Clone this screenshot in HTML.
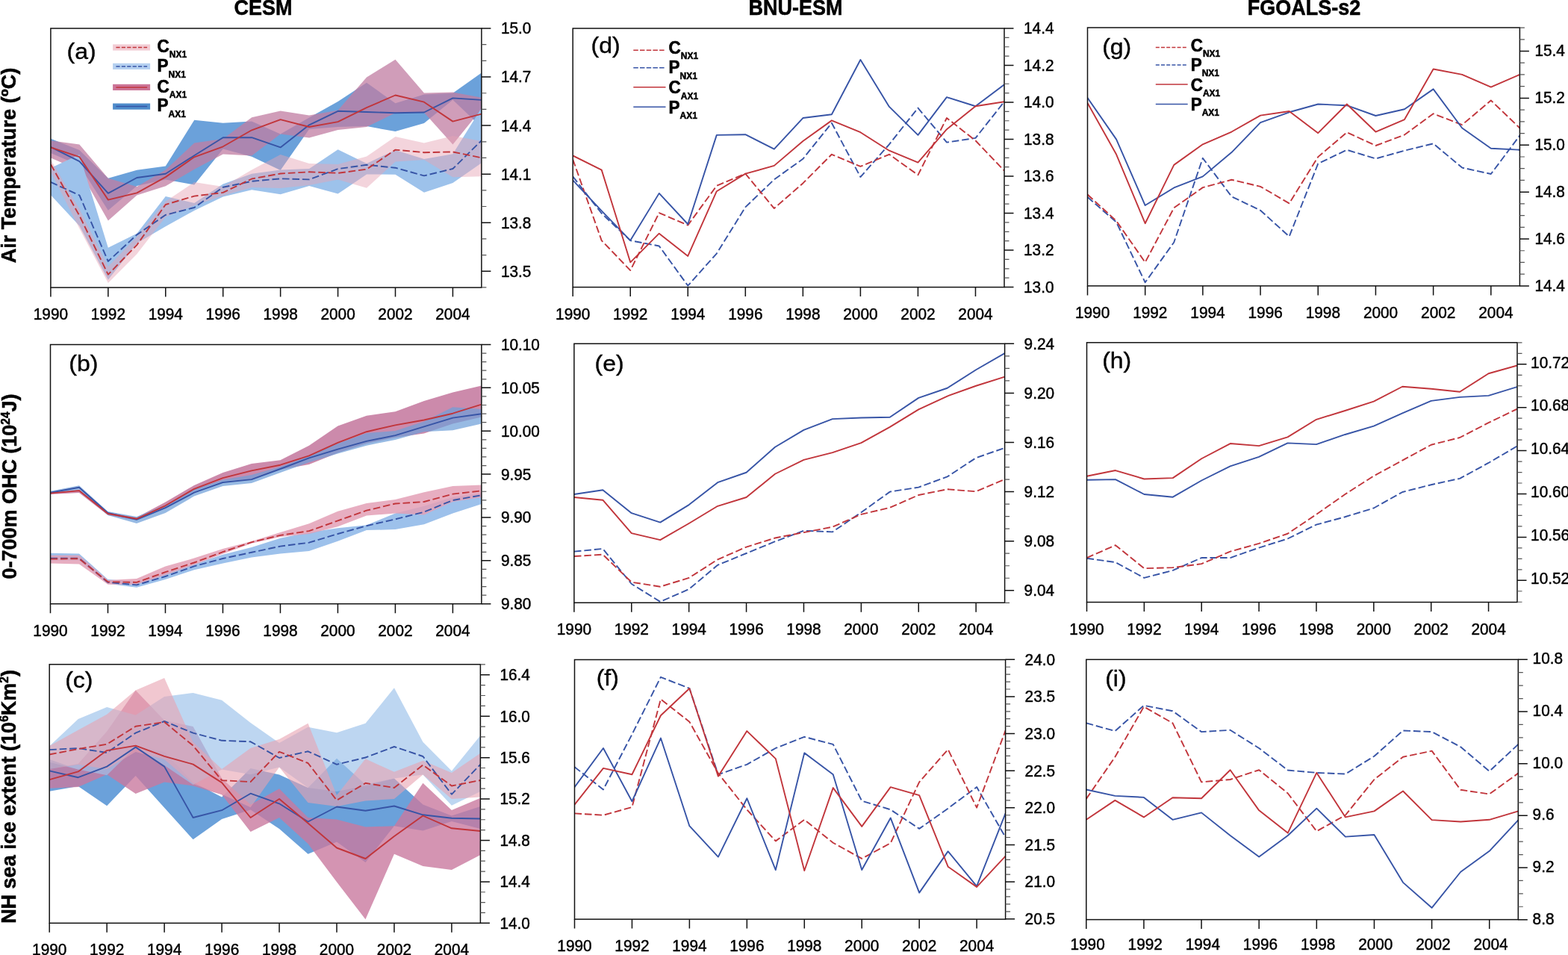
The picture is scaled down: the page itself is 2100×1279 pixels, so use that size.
<!DOCTYPE html>
<html lang="en"><head><meta charset="utf-8"><title>Figure</title>
<style>html,body{margin:0;padding:0;background:#fff}body{width:2100px;height:1279px;overflow:hidden}svg{display:block}text{font-family:"Liberation Sans", sans-serif;fill:#000}.t{font-size:20.8px;stroke:#000;stroke-width:0.45px}.b{font-weight:bold;font-size:27px;stroke:#000;stroke-width:0.5px}.g{font-size:32px;stroke:#000;stroke-width:0.4px}.lg{font-weight:bold;font-size:22.5px;stroke:#000;stroke-width:0.6px}.sb{font-weight:bold;font-size:12px;stroke:#000;stroke-width:0.5px}</style></head><body>
<svg width="2100" height="1279" viewBox="0 0 2100 1279">
<rect width="2100" height="1279" fill="#fff"/>
<text class="b" transform="translate(352.5,19.8) scale(1,1.1)" text-anchor="middle">CESM</text>
<text class="b" transform="translate(1065.5,19.8) scale(1,1.1)" text-anchor="middle">BNU-ESM</text>
<text class="b" transform="translate(1746.5,19.8) scale(1,1.1)" text-anchor="middle">FGOALS-s2</text>
<text class="b" transform="translate(20.8,221.5) rotate(-90) scale(1,1.04)" text-anchor="middle">Air Temperature (ºC)</text>
<text class="b" transform="translate(22.4,651.5) rotate(-90) scale(1,1.04)" text-anchor="middle">0-700m OHC (10<tspan dy="-9" font-size="15.5">24</tspan><tspan dy="9">J)</tspan></text>
<text class="b" transform="translate(20.8,1067) rotate(-90) scale(1,1.04)" text-anchor="middle">NH sea ice extent (10<tspan dy="-9" font-size="15.5">6</tspan><tspan dy="9">Km</tspan><tspan dy="-9" font-size="15.5">2</tspan><tspan dy="9">)</tspan></text>
<g id="pa">
<clipPath id="ca"><rect x="67.9" y="38" width="577" height="347.1"/></clipPath>
<g clip-path="url(#ca)">
<polygon points="67.9,185.7 106.37,201 144.83,238.8 183.3,227.7 221.77,222.6 260.23,160.7 298.7,164.7 337.17,162.5 375.63,179.4 414.1,157.5 452.57,136 491.03,110.8 529.5,138.3 567.97,126.5 606.43,124.8 644.9,97.5 644.9,170.6 606.43,133.8 567.97,164.9 529.5,176.1 491.03,169 452.57,170 414.1,173 375.63,228 337.17,209.7 298.7,199.6 260.23,247.4 221.77,240.5 183.3,249.1 144.83,281.8 106.37,221.6 67.9,205" fill="#6ba1da" fill-opacity="1"/>
<polygon points="67.9,188.2 106.37,193.4 144.83,238.8 183.3,250 221.77,227.6 260.23,191.5 298.7,186 337.17,157.3 375.63,148.5 414.1,154.6 452.57,147.8 491.03,103.5 529.5,79.8 567.97,124.5 606.43,123.5 644.9,130.8 644.9,146 606.43,193.5 567.97,150.8 529.5,151.2 491.03,170 452.57,174 414.1,184.5 375.63,179.4 337.17,208.5 298.7,206.6 260.23,226.8 221.77,249.2 183.3,261.5 144.83,295.5 106.37,228 67.9,211.5" fill="#c17ea3" fill-opacity="0.76"/>
<polygon points="67.9,225 106.37,207 144.83,331.7 183.3,312.8 221.77,262.9 260.23,272 298.7,246.5 337.17,232.8 375.63,227.6 414.1,226 452.57,200.2 491.03,219 529.5,201 567.97,213.1 606.43,206.2 644.9,144.4 644.9,218.2 606.43,244.9 567.97,257.8 529.5,233.7 491.03,233.5 452.57,259.6 414.1,249 375.63,260.3 337.17,254.3 298.7,263.5 260.23,282 221.77,303.3 183.3,325.7 144.83,374.7 106.37,302.4 67.9,261.2" fill="#9dc2eb" fill-opacity="1"/>
<polygon points="67.9,213.9 106.37,280 144.83,357 183.3,317 221.77,269.8 260.23,244 298.7,250 337.17,227.5 375.63,207 414.1,219 452.57,220 491.03,209.6 529.5,183 567.97,191.6 606.43,182.1 644.9,189 644.9,236.3 606.43,237.2 567.97,213.9 529.5,216.5 491.03,251.8 452.57,240.6 414.1,248 375.63,252 337.17,251 298.7,262 260.23,275.3 221.77,290.4 183.3,340.3 144.83,379 106.37,306 67.9,230" fill="#e5a4b5" fill-opacity="0.47"/>
<polyline points="67.9,243.9 106.37,261.5 144.83,350 183.3,314.4 221.77,287.8 260.23,278 298.7,250.8 337.17,242.8 375.63,239.3 414.1,240.4 452.57,226.2 491.03,220.8 529.5,224.7 567.97,235.4 606.43,226 644.9,188.2" fill="none" stroke="#3754a6" stroke-width="1.9" stroke-linejoin="round" stroke-dasharray="9.6 3.9"/>
<polyline points="67.9,220 106.37,288.8 144.83,367.7 183.3,328.1 221.77,274 260.23,262.6 298.7,257.9 337.17,239.5 375.63,232.5 414.1,230.3 452.57,231.8 491.03,226.7 529.5,200.6 567.97,204.2 606.43,203.4 644.9,211.3" fill="none" stroke="#c1353b" stroke-width="1.9" stroke-linejoin="round" stroke-dasharray="9.6 3.9"/>
<polyline points="67.9,196.9 106.37,216.2 144.83,258.9 183.3,238 221.77,232.7 260.23,208.3 298.7,184.2 337.17,184.2 375.63,197.4 414.1,167.3 452.57,148.8 491.03,150 529.5,151.2 567.97,150.5 606.43,131.4 644.9,133.9" fill="none" stroke="#3754a6" stroke-width="1.9" stroke-linejoin="round"/>
<polyline points="67.9,197.5 106.37,210.2 144.83,267.6 183.3,258.4 221.77,237.1 260.23,210.3 298.7,196.3 337.17,174.3 375.63,160.2 414.1,170 452.57,163.1 491.03,144.2 529.5,127.5 567.97,136.7 606.43,162.6 644.9,152.6" fill="none" stroke="#c1353b" stroke-width="1.9" stroke-linejoin="round"/>
</g>
<rect x="67.9" y="38" width="577" height="347.1" fill="none" stroke="#111" stroke-width="1.5"/>
<path d="M67.9 385.1v12.5M144.83 385.1v12.5M221.77 385.1v12.5M298.7 385.1v12.5M375.63 385.1v12.5M452.57 385.1v12.5M529.5 385.1v12.5M606.43 385.1v12.5" stroke="#111" stroke-width="1.5" fill="none"/>
<text class="t" transform="translate(67.9,428.1) scale(1,1.02)" text-anchor="middle">1990</text>
<text class="t" transform="translate(144.83,428.1) scale(1,1.02)" text-anchor="middle">1992</text>
<text class="t" transform="translate(221.77,428.1) scale(1,1.02)" text-anchor="middle">1994</text>
<text class="t" transform="translate(298.7,428.1) scale(1,1.02)" text-anchor="middle">1996</text>
<text class="t" transform="translate(375.63,428.1) scale(1,1.02)" text-anchor="middle">1998</text>
<text class="t" transform="translate(452.57,428.1) scale(1,1.02)" text-anchor="middle">2000</text>
<text class="t" transform="translate(529.5,428.1) scale(1,1.02)" text-anchor="middle">2002</text>
<text class="t" transform="translate(606.43,428.1) scale(1,1.02)" text-anchor="middle">2004</text>
<text class="t" transform="translate(670.9,45.4) scale(1,1.02)">15.0</text>
<text class="t" transform="translate(670.9,110.45) scale(1,1.02)">14.7</text>
<text class="t" transform="translate(670.9,175.5) scale(1,1.02)">14.4</text>
<text class="t" transform="translate(670.9,240.55) scale(1,1.02)">14.1</text>
<text class="t" transform="translate(670.9,305.6) scale(1,1.02)">13.8</text>
<text class="t" transform="translate(670.9,370.65) scale(1,1.02)">13.5</text>
<path d="M644.9 38h12.5M644.9 103.05h12.5M644.9 168.1h12.5M644.9 233.15h12.5M644.9 298.2h12.5M644.9 363.25h12.5" stroke="#111" stroke-width="1.5" fill="none"/>
<path d="M644.9 59.68h6.5M644.9 81.37h6.5M644.9 124.73h6.5M644.9 146.42h6.5M644.9 189.78h6.5M644.9 211.47h6.5M644.9 254.83h6.5M644.9 276.52h6.5M644.9 319.88h6.5M644.9 341.57h6.5M644.9 384.93h6.5" stroke="#555" stroke-width="1.2" fill="none"/>
<text class="g" transform="translate(109.1,78.64) scale(1,0.95)" text-anchor="middle">(a)</text>
</g>
<g id="pd">
<clipPath id="cd"><rect x="767.2" y="38" width="577.8" height="346.6"/></clipPath>
<g clip-path="url(#cd)">
<polyline points="767.2,236.36 805.72,285.78 844.24,322.09 882.76,329.49 921.28,382.61 959.8,339.58 998.32,277.38 1036.84,240.39 1075.36,212.82 1113.88,164.74 1152.4,237.03 1190.92,193.32 1229.44,144.57 1267.96,190.63 1306.48,184.92 1345,136.17" fill="none" stroke="#3754a6" stroke-width="1.9" stroke-linejoin="round" stroke-dasharray="9.6 3.9"/>
<polyline points="767.2,213.5 805.72,322.09 844.24,362.1 882.76,285.11 921.28,301.58 959.8,248.8 998.32,232.66 1036.84,279.06 1075.36,245.44 1113.88,206.77 1152.4,222.91 1190.92,206.77 1229.44,234.34 1267.96,158.02 1306.48,188.28 1345,228.63" fill="none" stroke="#c1353b" stroke-width="1.9" stroke-linejoin="round" stroke-dasharray="9.6 3.9"/>
<polyline points="767.2,241.4 805.72,282.42 844.24,322.09 882.76,258.88 921.28,300.24 959.8,180.88 998.32,180.21 1036.84,199.71 1075.36,158.02 1113.88,153.31 1152.4,80.02 1190.92,142.89 1229.44,180.88 1267.96,130.11 1306.48,142.22 1345,113.3" fill="none" stroke="#3754a6" stroke-width="1.9" stroke-linejoin="round"/>
<polyline points="767.2,208.45 805.72,227.62 844.24,351.34 882.76,312.68 921.28,342.94 959.8,256.19 998.32,232.66 1036.84,221.9 1075.36,188.95 1113.88,161.38 1152.4,177.18 1190.92,201.73 1229.44,217.53 1267.96,173.15 1306.48,142.22 1345,136.17" fill="none" stroke="#c1353b" stroke-width="1.9" stroke-linejoin="round"/>
</g>
<rect x="767.2" y="38" width="577.8" height="346.6" fill="none" stroke="#111" stroke-width="1.5"/>
<path d="M767.2 384.6v12.5M844.24 384.6v12.5M921.28 384.6v12.5M998.32 384.6v12.5M1075.36 384.6v12.5M1152.4 384.6v12.5M1229.44 384.6v12.5M1306.48 384.6v12.5" stroke="#111" stroke-width="1.5" fill="none"/>
<text class="t" transform="translate(767.2,427.6) scale(1,1.02)" text-anchor="middle">1990</text>
<text class="t" transform="translate(844.24,427.6) scale(1,1.02)" text-anchor="middle">1992</text>
<text class="t" transform="translate(921.28,427.6) scale(1,1.02)" text-anchor="middle">1994</text>
<text class="t" transform="translate(998.32,427.6) scale(1,1.02)" text-anchor="middle">1996</text>
<text class="t" transform="translate(1075.36,427.6) scale(1,1.02)" text-anchor="middle">1998</text>
<text class="t" transform="translate(1152.4,427.6) scale(1,1.02)" text-anchor="middle">2000</text>
<text class="t" transform="translate(1229.44,427.6) scale(1,1.02)" text-anchor="middle">2002</text>
<text class="t" transform="translate(1306.48,427.6) scale(1,1.02)" text-anchor="middle">2004</text>
<text class="t" transform="translate(1371,45.4) scale(1,1.02)">14.4</text>
<text class="t" transform="translate(1371,94.91) scale(1,1.02)">14.2</text>
<text class="t" transform="translate(1371,144.42) scale(1,1.02)">14.0</text>
<text class="t" transform="translate(1371,193.93) scale(1,1.02)">13.8</text>
<text class="t" transform="translate(1371,243.44) scale(1,1.02)">13.6</text>
<text class="t" transform="translate(1371,292.95) scale(1,1.02)">13.4</text>
<text class="t" transform="translate(1371,342.46) scale(1,1.02)">13.2</text>
<text class="t" transform="translate(1371,391.97) scale(1,1.02)">13.0</text>
<path d="M1345 38h12.5M1345 87.51h12.5M1345 137.02h12.5M1345 186.53h12.5M1345 236.04h12.5M1345 285.55h12.5M1345 335.06h12.5M1345 384.57h12.5" stroke="#111" stroke-width="1.5" fill="none"/>
<path d="M1345 50.38h6.5M1345 62.75h6.5M1345 75.13h6.5M1345 99.89h6.5M1345 112.27h6.5M1345 124.64h6.5M1345 149.4h6.5M1345 161.77h6.5M1345 174.15h6.5M1345 198.91h6.5M1345 211.28h6.5M1345 223.66h6.5M1345 248.42h6.5M1345 260.79h6.5M1345 273.17h6.5M1345 297.93h6.5M1345 310.31h6.5M1345 322.68h6.5M1345 347.44h6.5M1345 359.81h6.5M1345 372.19h6.5" stroke="#555" stroke-width="1.2" fill="none"/>
<text class="g" transform="translate(811.05,70.7) scale(1,0.95)" text-anchor="middle">(d)</text>
</g>
<g id="pg">
<clipPath id="cg"><rect x="1456.5" y="37" width="578.9" height="345.9"/></clipPath>
<g clip-path="url(#cg)">
<polyline points="1456.5,263.93 1495.09,297.55 1533.69,378.24 1572.28,324.45 1610.87,211.81 1649.47,263.26 1688.06,281.75 1726.65,316.71 1765.25,219.21 1803.84,200.72 1842.43,212.49 1881.03,201.73 1919.62,192.31 1958.21,224.59 1996.81,233 2035.4,181.56" fill="none" stroke="#3754a6" stroke-width="1.9" stroke-linejoin="round" stroke-dasharray="9.6 3.9"/>
<polyline points="1456.5,260.57 1495.09,295.87 1533.69,351.34 1572.28,278.38 1610.87,251.15 1649.47,240.73 1688.06,249.81 1726.65,272.33 1765.25,210.13 1803.84,177.18 1842.43,195 1881.03,180.55 1919.62,152.3 1958.21,167.1 1996.81,134.49 2035.4,171.47" fill="none" stroke="#c1353b" stroke-width="1.9" stroke-linejoin="round" stroke-dasharray="9.6 3.9"/>
<polyline points="1456.5,131.12 1495.09,186.6 1533.69,275.02 1572.28,251.49 1610.87,236.36 1649.47,204.08 1688.06,164.07 1726.65,150.29 1765.25,139.53 1803.84,141.21 1842.43,154.99 1881.03,146.25 1919.62,119.36 1958.21,171.47 1996.81,198.7 2035.4,200.72" fill="none" stroke="#3754a6" stroke-width="1.9" stroke-linejoin="round"/>
<polyline points="1456.5,137.85 1495.09,206.77 1533.69,299.23 1572.28,220.89 1610.87,193.32 1649.47,176.51 1688.06,154.66 1726.65,148.94 1765.25,178.19 1803.84,139.53 1842.43,176.51 1881.03,160.04 1919.62,92.46 1958.21,99.86 1996.81,116.67 2035.4,99.86" fill="none" stroke="#c1353b" stroke-width="1.9" stroke-linejoin="round"/>
</g>
<rect x="1456.5" y="37" width="578.9" height="345.9" fill="none" stroke="#111" stroke-width="1.5"/>
<path d="M1456.5 382.9v12.5M1533.69 382.9v12.5M1610.87 382.9v12.5M1688.06 382.9v12.5M1765.25 382.9v12.5M1842.43 382.9v12.5M1919.62 382.9v12.5M1996.81 382.9v12.5" stroke="#111" stroke-width="1.5" fill="none"/>
<text class="t" transform="translate(1463.1,425.9) scale(1,1.02)" text-anchor="middle">1990</text>
<text class="t" transform="translate(1540.29,425.9) scale(1,1.02)" text-anchor="middle">1992</text>
<text class="t" transform="translate(1617.47,425.9) scale(1,1.02)" text-anchor="middle">1994</text>
<text class="t" transform="translate(1694.66,425.9) scale(1,1.02)" text-anchor="middle">1996</text>
<text class="t" transform="translate(1771.85,425.9) scale(1,1.02)" text-anchor="middle">1998</text>
<text class="t" transform="translate(1849.03,425.9) scale(1,1.02)" text-anchor="middle">2000</text>
<text class="t" transform="translate(1926.22,425.9) scale(1,1.02)" text-anchor="middle">2002</text>
<text class="t" transform="translate(2003.41,425.9) scale(1,1.02)" text-anchor="middle">2004</text>
<text class="t" transform="translate(2055.4,75.3) scale(1,1.02)">15.4</text>
<text class="t" transform="translate(2055.4,138.18) scale(1,1.02)">15.2</text>
<text class="t" transform="translate(2055.4,201.06) scale(1,1.02)">15.0</text>
<text class="t" transform="translate(2055.4,263.94) scale(1,1.02)">14.8</text>
<text class="t" transform="translate(2055.4,326.82) scale(1,1.02)">14.6</text>
<text class="t" transform="translate(2055.4,389.7) scale(1,1.02)">14.4</text>
<path d="M2035.4 68.5h12.5M2035.4 131.38h12.5M2035.4 194.26h12.5M2035.4 257.14h12.5M2035.4 320.02h12.5M2035.4 382.9h12.5" stroke="#111" stroke-width="1.5" fill="none"/>
<path d="M2035.4 37.06h6.5M2035.4 52.78h6.5M2035.4 84.22h6.5M2035.4 99.94h6.5M2035.4 115.66h6.5M2035.4 147.1h6.5M2035.4 162.82h6.5M2035.4 178.54h6.5M2035.4 209.98h6.5M2035.4 225.7h6.5M2035.4 241.42h6.5M2035.4 272.86h6.5M2035.4 288.58h6.5M2035.4 304.3h6.5M2035.4 335.74h6.5M2035.4 351.46h6.5M2035.4 367.18h6.5" stroke="#555" stroke-width="1.2" fill="none"/>
<text class="g" transform="translate(1495.7,72.9) scale(1,0.95)" text-anchor="middle">(g)</text>
</g>
<g id="pb">
<clipPath id="cb"><rect x="67.5" y="461.5" width="577.4" height="347.2"/></clipPath>
<g clip-path="url(#cb)">
<polygon points="67.5,659.3 105.99,655.8 144.49,686.6 182.98,692.9 221.47,672.4 259.97,649.9 298.46,632.9 336.95,621 375.45,616.3 413.94,596.7 452.43,570.4 490.93,556.7 529.42,551.2 567.91,537.1 606.41,525.4 644.9,516.6 644.9,558.6 606.41,567.5 567.91,580.5 529.42,586 490.93,594 452.43,606.5 413.94,622.1 375.45,629 336.95,642 298.46,644 259.97,657.7 221.47,679.6 182.98,696.8 144.49,690 105.99,660 67.5,662" fill="#cc8aab" fill-opacity="1"/>
<polygon points="67.5,657.7 105.99,650.3 144.49,685.1 182.98,691.9 221.47,676.5 259.97,655.5 298.46,642.5 336.95,636 375.45,625 413.94,610.5 452.43,594 490.93,580.1 529.42,577 567.91,564.5 606.41,545.3 644.9,547.9 644.9,567.4 606.41,576.2 567.91,578.2 529.42,588.9 490.93,596.7 452.43,607.5 413.94,619.2 375.45,632.9 336.95,647 298.46,650.9 259.97,664.6 221.47,687 182.98,701.1 144.49,690 105.99,655.8 67.5,661.6" fill="#6f9fd8" fill-opacity="0.72"/>
<polygon points="67.5,740.8 105.99,741.4 144.49,776 182.98,778.9 221.47,767.2 259.97,755.4 298.46,742.7 336.95,733 375.45,720.8 413.94,713 452.43,707.2 490.93,703.2 529.42,687.6 567.91,677.8 606.41,666.1 644.9,660.3 644.9,674.9 606.41,687.6 567.91,702.3 529.42,709.1 490.93,710.1 452.43,724.7 413.94,738 375.45,741.4 336.95,746.6 298.46,754.5 259.97,763.2 221.47,776 182.98,786.7 144.49,781.8 105.99,750.5 67.5,750.5" fill="#9dc1eb" fill-opacity="1"/>
<polygon points="67.5,743.7 105.99,743.7 144.49,776.9 182.98,775 221.47,758.4 259.97,747.6 298.46,734.9 336.95,725.1 375.45,713 413.94,701.3 452.43,684.7 490.93,673.9 529.42,669 567.91,659.3 606.41,650.9 644.9,649.5 644.9,666 606.41,672 567.91,689.6 529.42,687.6 490.93,690.5 452.43,705.2 413.94,715 375.45,719 336.95,727.7 298.46,741.8 259.97,756.4 221.47,770.1 182.98,782.8 144.49,782.8 105.99,755.4 67.5,754.5" fill="#e3a0b6" fill-opacity="0.85"/>
<polyline points="67.5,747.6 105.99,747.6 144.49,779.9 182.98,783.4 221.47,772 259.97,758.4 298.46,748 336.95,739.8 375.45,731.6 413.94,726.7 452.43,715 490.93,704.2 529.42,695.4 567.91,685.7 606.41,670 644.9,663.2" fill="none" stroke="#3754a6" stroke-width="1.9" stroke-linejoin="round" stroke-dasharray="9.6 3.9"/>
<polyline points="67.5,748.6 105.99,748.2 144.49,779.3 182.98,779.9 221.47,766.2 259.97,753.5 298.46,739.2 336.95,726.1 375.45,716.9 413.94,711.1 452.43,697.4 490.93,683.7 529.42,674.5 567.91,672 606.41,661.6 644.9,657.3" fill="none" stroke="#c1353b" stroke-width="1.9" stroke-linejoin="round" stroke-dasharray="9.6 3.9"/>
<polyline points="67.5,659.7 105.99,652.8 144.49,687 182.98,695.8 221.47,680.2 259.97,659.7 298.46,646 336.95,642.1 375.45,628 413.94,613.3 452.43,601.6 490.93,590.9 529.42,583.1 567.91,571.3 606.41,559.6 644.9,554.3" fill="none" stroke="#3754a6" stroke-width="1.9" stroke-linejoin="round"/>
<polyline points="67.5,660.6 105.99,657.1 144.49,688 182.98,694.8 221.47,677.3 259.97,654.8 298.46,640.1 336.95,630.4 375.45,622.7 413.94,610.4 452.43,592.8 490.93,578.2 529.42,569.4 567.91,562.5 606.41,553.7 644.9,541.6" fill="none" stroke="#c1353b" stroke-width="1.9" stroke-linejoin="round"/>
</g>
<rect x="67.5" y="461.5" width="577.4" height="347.2" fill="none" stroke="#111" stroke-width="1.5"/>
<path d="M67.5 808.7v12.5M144.49 808.7v12.5M221.47 808.7v12.5M298.46 808.7v12.5M375.45 808.7v12.5M452.43 808.7v12.5M529.42 808.7v12.5M606.41 808.7v12.5" stroke="#111" stroke-width="1.5" fill="none"/>
<text class="t" transform="translate(67.5,851.7) scale(1,1.02)" text-anchor="middle">1990</text>
<text class="t" transform="translate(144.49,851.7) scale(1,1.02)" text-anchor="middle">1992</text>
<text class="t" transform="translate(221.47,851.7) scale(1,1.02)" text-anchor="middle">1994</text>
<text class="t" transform="translate(298.46,851.7) scale(1,1.02)" text-anchor="middle">1996</text>
<text class="t" transform="translate(375.45,851.7) scale(1,1.02)" text-anchor="middle">1998</text>
<text class="t" transform="translate(452.43,851.7) scale(1,1.02)" text-anchor="middle">2000</text>
<text class="t" transform="translate(529.42,851.7) scale(1,1.02)" text-anchor="middle">2002</text>
<text class="t" transform="translate(606.41,851.7) scale(1,1.02)" text-anchor="middle">2004</text>
<text class="t" transform="translate(670.9,468.9) scale(1,1.02)">10.10</text>
<text class="t" transform="translate(670.9,526.77) scale(1,1.02)">10.05</text>
<text class="t" transform="translate(670.9,584.64) scale(1,1.02)">10.00</text>
<text class="t" transform="translate(670.9,642.51) scale(1,1.02)">9.95</text>
<text class="t" transform="translate(670.9,700.38) scale(1,1.02)">9.90</text>
<text class="t" transform="translate(670.9,758.25) scale(1,1.02)">9.85</text>
<text class="t" transform="translate(670.9,816.12) scale(1,1.02)">9.80</text>
<path d="M644.9 461.5h12.5M644.9 519.37h12.5M644.9 577.24h12.5M644.9 635.11h12.5M644.9 692.98h12.5M644.9 750.85h12.5M644.9 808.72h12.5" stroke="#111" stroke-width="1.5" fill="none"/>
<path d="M644.9 473.07h6.5M644.9 484.65h6.5M644.9 496.22h6.5M644.9 507.8h6.5M644.9 530.94h6.5M644.9 542.52h6.5M644.9 554.09h6.5M644.9 565.67h6.5M644.9 588.81h6.5M644.9 600.39h6.5M644.9 611.96h6.5M644.9 623.54h6.5M644.9 646.68h6.5M644.9 658.26h6.5M644.9 669.83h6.5M644.9 681.41h6.5M644.9 704.55h6.5M644.9 716.13h6.5M644.9 727.7h6.5M644.9 739.28h6.5M644.9 762.42h6.5M644.9 774h6.5M644.9 785.57h6.5M644.9 797.15h6.5" stroke="#555" stroke-width="1.2" fill="none"/>
<text class="g" transform="translate(111.8,497.3) scale(1,0.95)" text-anchor="middle">(b)</text>
</g>
<g id="pe">
<clipPath id="ce"><rect x="768.9" y="460.3" width="576.7" height="346.9"/></clipPath>
<g clip-path="url(#ce)">
<polyline points="768.9,738.64 807.35,734.95 845.79,782.02 884.24,805.89 922.69,789.08 961.13,756.8 999.58,741 1038.03,725.2 1076.47,710.74 1114.92,712.42 1153.37,686.19 1191.81,658.63 1230.26,652.57 1268.71,638.45 1307.15,613.24 1345.6,599.79" fill="none" stroke="#3754a6" stroke-width="1.9" stroke-linejoin="round" stroke-dasharray="9.6 3.9"/>
<polyline points="768.9,745.03 807.35,742.68 845.79,779.66 884.24,785.71 922.69,773.95 961.13,749.4 999.58,732.59 1038.03,720.49 1076.47,713.09 1114.92,705.7 1153.37,688.88 1191.81,679.81 1230.26,663 1268.71,655.26 1307.15,658.29 1345.6,641.81" fill="none" stroke="#c1353b" stroke-width="1.9" stroke-linejoin="round" stroke-dasharray="9.6 3.9"/>
<polyline points="768.9,661.99 807.35,656.27 845.79,687.2 884.24,699.64 922.69,676.11 961.13,646.19 999.58,632.74 1038.03,598.78 1076.47,575.92 1114.92,561.12 1153.37,559.44 1191.81,558.77 1230.26,532.88 1268.71,519.77 1307.15,495.23 1345.6,473.04" fill="none" stroke="#3754a6" stroke-width="1.9" stroke-linejoin="round"/>
<polyline points="768.9,666.02 807.35,669.72 845.79,714.1 884.24,723.18 922.69,700.99 961.13,677.79 999.58,666.02 1038.03,634.75 1076.47,615.93 1114.92,606.18 1153.37,593.06 1191.81,571.88 1230.26,548.35 1268.71,530.53 1307.15,516.74 1345.6,504.64" fill="none" stroke="#c1353b" stroke-width="1.9" stroke-linejoin="round"/>
</g>
<rect x="768.9" y="460.3" width="576.7" height="346.9" fill="none" stroke="#111" stroke-width="1.5"/>
<path d="M768.9 807.2v12.5M845.79 807.2v12.5M922.69 807.2v12.5M999.58 807.2v12.5M1076.47 807.2v12.5M1153.37 807.2v12.5M1230.26 807.2v12.5M1307.15 807.2v12.5" stroke="#111" stroke-width="1.5" fill="none"/>
<text class="t" transform="translate(768.9,850.2) scale(1,1.02)" text-anchor="middle">1990</text>
<text class="t" transform="translate(845.79,850.2) scale(1,1.02)" text-anchor="middle">1992</text>
<text class="t" transform="translate(922.69,850.2) scale(1,1.02)" text-anchor="middle">1994</text>
<text class="t" transform="translate(999.58,850.2) scale(1,1.02)" text-anchor="middle">1996</text>
<text class="t" transform="translate(1076.47,850.2) scale(1,1.02)" text-anchor="middle">1998</text>
<text class="t" transform="translate(1153.37,850.2) scale(1,1.02)" text-anchor="middle">2000</text>
<text class="t" transform="translate(1230.26,850.2) scale(1,1.02)" text-anchor="middle">2002</text>
<text class="t" transform="translate(1307.15,850.2) scale(1,1.02)" text-anchor="middle">2004</text>
<text class="t" transform="translate(1371.6,467.7) scale(1,1.02)">9.24</text>
<text class="t" transform="translate(1371.6,533.8) scale(1,1.02)">9.20</text>
<text class="t" transform="translate(1371.6,599.9) scale(1,1.02)">9.16</text>
<text class="t" transform="translate(1371.6,666) scale(1,1.02)">9.12</text>
<text class="t" transform="translate(1371.6,732.1) scale(1,1.02)">9.08</text>
<text class="t" transform="translate(1371.6,798.2) scale(1,1.02)">9.04</text>
<path d="M1345.6 460.3h12.5M1345.6 526.4h12.5M1345.6 592.5h12.5M1345.6 658.6h12.5M1345.6 724.7h12.5M1345.6 790.8h12.5" stroke="#111" stroke-width="1.5" fill="none"/>
<path d="M1345.6 476.82h6.5M1345.6 493.35h6.5M1345.6 509.88h6.5M1345.6 542.92h6.5M1345.6 559.45h6.5M1345.6 575.98h6.5M1345.6 609.02h6.5M1345.6 625.55h6.5M1345.6 642.08h6.5M1345.6 675.12h6.5M1345.6 691.65h6.5M1345.6 708.17h6.5M1345.6 741.22h6.5M1345.6 757.75h6.5M1345.6 774.27h6.5M1345.6 807.33h6.5" stroke="#555" stroke-width="1.2" fill="none"/>
<text class="g" transform="translate(816.1,497.3) scale(1,0.95)" text-anchor="middle">(e)</text>
</g>
<g id="ph">
<clipPath id="ch"><rect x="1455.5" y="458.8" width="576.5" height="347.7"/></clipPath>
<g clip-path="url(#ch)">
<polyline points="1455.5,747.72 1493.93,753.1 1532.37,773.95 1570.8,763.86 1609.23,747.05 1647.67,747.05 1686.1,733.6 1724.53,721.5 1762.97,702.67 1801.4,692.25 1839.83,680.48 1878.27,658.96 1916.7,649.21 1955.13,640.81 1993.57,619.96 2032,597.43" fill="none" stroke="#3754a6" stroke-width="1.9" stroke-linejoin="round" stroke-dasharray="9.6 3.9"/>
<polyline points="1455.5,747.05 1493.93,730.24 1532.37,761.17 1570.8,760.16 1609.23,755.12 1647.67,738.64 1686.1,727.89 1724.53,714.77 1762.97,688.88 1801.4,661.99 1839.83,637.44 1878.27,616.6 1916.7,595.75 1955.13,586 1993.57,566.17 2032,547.67" fill="none" stroke="#c1353b" stroke-width="1.9" stroke-linejoin="round" stroke-dasharray="9.6 3.9"/>
<polyline points="1455.5,642.82 1493.93,642.15 1532.37,661.99 1570.8,665.69 1609.23,643.5 1647.67,624.33 1686.1,611.89 1724.53,593.4 1762.97,595.08 1801.4,581.97 1839.83,570.54 1878.27,553.39 1916.7,536.92 1955.13,531.87 1993.57,529.86 2032,518.09" fill="none" stroke="#3754a6" stroke-width="1.9" stroke-linejoin="round"/>
<polyline points="1455.5,637.78 1493.93,630.05 1532.37,641.48 1570.8,640.13 1609.23,614.25 1647.67,594.07 1686.1,597.1 1724.53,585.33 1762.97,561.8 1801.4,550.03 1839.83,537.59 1878.27,517.75 1916.7,520.78 1955.13,524.81 1993.57,500.27 2032,489.51" fill="none" stroke="#c1353b" stroke-width="1.9" stroke-linejoin="round"/>
</g>
<rect x="1455.5" y="458.8" width="576.5" height="347.7" fill="none" stroke="#111" stroke-width="1.5"/>
<path d="M1455.5 806.5v12.5M1532.37 806.5v12.5M1609.23 806.5v12.5M1686.1 806.5v12.5M1762.97 806.5v12.5M1839.83 806.5v12.5M1916.7 806.5v12.5M1993.57 806.5v12.5" stroke="#111" stroke-width="1.5" fill="none"/>
<text class="t" transform="translate(1455.5,849.5) scale(1,1.02)" text-anchor="middle">1990</text>
<text class="t" transform="translate(1532.37,849.5) scale(1,1.02)" text-anchor="middle">1992</text>
<text class="t" transform="translate(1609.23,849.5) scale(1,1.02)" text-anchor="middle">1994</text>
<text class="t" transform="translate(1686.1,849.5) scale(1,1.02)" text-anchor="middle">1996</text>
<text class="t" transform="translate(1762.97,849.5) scale(1,1.02)" text-anchor="middle">1998</text>
<text class="t" transform="translate(1839.83,849.5) scale(1,1.02)" text-anchor="middle">2000</text>
<text class="t" transform="translate(1916.7,849.5) scale(1,1.02)" text-anchor="middle">2002</text>
<text class="t" transform="translate(1993.57,849.5) scale(1,1.02)" text-anchor="middle">2004</text>
<text class="t" transform="translate(2050.1,492.5) scale(1,1.02)">10.72</text>
<text class="t" transform="translate(2050.1,550.4) scale(1,1.02)">10.68</text>
<text class="t" transform="translate(2050.1,608.3) scale(1,1.02)">10.64</text>
<text class="t" transform="translate(2050.1,666.2) scale(1,1.02)">10.60</text>
<text class="t" transform="translate(2050.1,724.1) scale(1,1.02)">10.56</text>
<text class="t" transform="translate(2050.1,782) scale(1,1.02)">10.52</text>
<path d="M2032 487.8h12.5M2032 545.7h12.5M2032 603.6h12.5M2032 661.5h12.5M2032 719.4h12.5M2032 777.3h12.5" stroke="#111" stroke-width="1.5" fill="none"/>
<path d="M2032 458.85h6.5M2032 473.32h6.5M2032 502.28h6.5M2032 516.75h6.5M2032 531.23h6.5M2032 560.17h6.5M2032 574.65h6.5M2032 589.12h6.5M2032 618.08h6.5M2032 632.55h6.5M2032 647.02h6.5M2032 675.98h6.5M2032 690.45h6.5M2032 704.92h6.5M2032 733.88h6.5M2032 748.35h6.5M2032 762.83h6.5M2032 791.77h6.5M2032 806.25h6.5" stroke="#555" stroke-width="1.2" fill="none"/>
<text class="g" transform="translate(1495.7,492.5) scale(1,0.95)" text-anchor="middle">(h)</text>
</g>
<g id="pc">
<clipPath id="cc"><rect x="66.2" y="889.8" width="577.2" height="346.5"/></clipPath>
<g clip-path="url(#cc)">
<polygon points="66.2,1017.1 104.68,1030.6 143.16,1003.7 181.64,1000 220.12,1007 258.6,1047.4 297.08,1067.6 335.56,1028.9 374.04,1037.5 412.52,1055 451,1015.8 489.48,1050.7 527.96,1042.5 566.44,1077.5 604.92,1092.5 643.4,1080 643.4,1110 604.92,1100 566.44,1112.5 527.96,1106.3 489.48,1155 451,1127.5 412.52,1143.8 374.04,1110 335.56,1084.4 297.08,1096.9 258.6,1124.3 220.12,1081.7 181.64,1038.9 143.16,1079.3 104.68,1053 66.2,1059.8" fill="#6ba1da" fill-opacity="1"/>
<polygon points="66.2,1030 104.68,1023 143.16,979.5 181.64,924.4 220.12,964.8 258.6,973.1 297.08,1042.5 335.56,1077.6 374.04,1056.3 412.52,1095 451,1097.5 489.48,1107.5 527.96,1106.3 566.44,1048.8 604.92,1085 643.4,1068.8 643.4,1145 604.92,1165 566.44,1160 527.96,1143.8 489.48,1231.3 451,1181.3 412.52,1130 374.04,1095 335.56,1114 297.08,1064.2 258.6,1052.4 220.12,1047.4 181.64,1063 143.16,1037.3 104.68,1054.1 66.2,1055.8" fill="#c9799f" fill-opacity="0.8"/>
<polygon points="66.2,999.2 104.68,963.1 143.16,947 181.64,957.8 220.12,933 258.6,928 297.08,937.8 335.56,967.9 374.04,995 412.52,973.8 451,981.3 489.48,968.8 527.96,921.3 566.44,993.8 604.92,1032.5 643.4,985 643.4,1060 604.92,1078.8 566.44,1037.5 527.96,1042.5 489.48,1052.5 451,1060 412.52,1055 374.04,1027.5 335.56,1037.3 297.08,1030.5 258.6,1051 220.12,1025 181.64,1000.5 143.16,1038.3 104.68,1030.5 66.2,1020.7" fill="#9dc2eb" fill-opacity="0.68"/>
<polygon points="66.2,999 104.68,977.7 143.16,956.7 181.64,924.4 220.12,907.9 258.6,994 297.08,1030 335.56,1002 374.04,990 412.52,968.8 451,1065 489.48,1016.3 527.96,1033.8 566.44,1018.8 604.92,1035 643.4,1008.8 643.4,1067.5 604.92,1070 566.44,1037.5 527.96,1070 489.48,1072.5 451,1080 412.52,1075 374.04,1027.5 335.56,1081.3 297.08,1063.7 258.6,1050 220.12,1017 181.64,1007 143.16,1030 104.68,1024 66.2,1030" fill="#e7a1b1" fill-opacity="0.6"/>
<polyline points="66.2,1004.1 104.68,1002.1 143.16,1008 181.64,981.6 220.12,966 258.6,981.6 297.08,991.8 335.56,993.3 374.04,1015 412.52,1006.3 451,1023.8 489.48,1014.5 527.96,1000 566.44,1013 604.92,1063.8 643.4,1023.8" fill="none" stroke="#3754a6" stroke-width="1.9" stroke-linejoin="round" stroke-dasharray="9.6 3.9"/>
<polyline points="66.2,1010.5 104.68,1003.1 143.16,996.7 181.64,972.8 220.12,967 258.6,998.6 297.08,1045.1 335.56,1047.1 374.04,1006.8 412.52,1022 451,1071.8 489.48,1048.8 527.96,1055 566.44,1024.5 604.92,1052.5 643.4,1045" fill="none" stroke="#c1353b" stroke-width="1.9" stroke-linejoin="round" stroke-dasharray="9.6 3.9"/>
<polyline points="66.2,1032.4 104.68,1041.2 143.16,1026.6 181.64,1000.6 220.12,1026.6 258.6,1095 297.08,1085.2 335.56,1062.7 374.04,1076.3 412.52,1100.5 451,1080.5 489.48,1085.8 527.96,1079.5 566.44,1091.3 604.92,1095.8 643.4,1096.5" fill="none" stroke="#3754a6" stroke-width="1.9" stroke-linejoin="round"/>
<polyline points="66.2,1044.2 104.68,1033.4 143.16,1005.1 181.64,998.6 220.12,1012.9 258.6,1023.6 297.08,1048.1 335.56,1095 374.04,1070 412.52,1102.5 451,1135.5 489.48,1150 527.96,1120 566.44,1092.5 604.92,1109.3 643.4,1113" fill="none" stroke="#c1353b" stroke-width="1.9" stroke-linejoin="round"/>
</g>
<rect x="66.2" y="889.8" width="577.2" height="346.5" fill="none" stroke="#111" stroke-width="1.5"/>
<path d="M66.2 1236.3v12.5M143.16 1236.3v12.5M220.12 1236.3v12.5M297.08 1236.3v12.5M374.04 1236.3v12.5M451 1236.3v12.5M527.96 1236.3v12.5M604.92 1236.3v12.5" stroke="#111" stroke-width="1.5" fill="none"/>
<text class="t" transform="translate(66.2,1279.3) scale(1,1.02)" text-anchor="middle">1990</text>
<text class="t" transform="translate(143.16,1279.3) scale(1,1.02)" text-anchor="middle">1992</text>
<text class="t" transform="translate(220.12,1279.3) scale(1,1.02)" text-anchor="middle">1994</text>
<text class="t" transform="translate(297.08,1279.3) scale(1,1.02)" text-anchor="middle">1996</text>
<text class="t" transform="translate(374.04,1279.3) scale(1,1.02)" text-anchor="middle">1998</text>
<text class="t" transform="translate(451,1279.3) scale(1,1.02)" text-anchor="middle">2000</text>
<text class="t" transform="translate(527.96,1279.3) scale(1,1.02)" text-anchor="middle">2002</text>
<text class="t" transform="translate(604.92,1279.3) scale(1,1.02)" text-anchor="middle">2004</text>
<text class="t" transform="translate(669.4,911.2) scale(1,1.02)">16.4</text>
<text class="t" transform="translate(669.4,966.62) scale(1,1.02)">16.0</text>
<text class="t" transform="translate(669.4,1022.04) scale(1,1.02)">15.6</text>
<text class="t" transform="translate(669.4,1077.46) scale(1,1.02)">15.2</text>
<text class="t" transform="translate(669.4,1132.88) scale(1,1.02)">14.8</text>
<text class="t" transform="translate(669.4,1188.3) scale(1,1.02)">14.4</text>
<text class="t" transform="translate(669.4,1243.72) scale(1,1.02)">14.0</text>
<path d="M643.4 903.8h12.5M643.4 959.22h12.5M643.4 1014.64h12.5M643.4 1070.06h12.5M643.4 1125.48h12.5M643.4 1180.9h12.5M643.4 1236.32h12.5" stroke="#111" stroke-width="1.5" fill="none"/>
<path d="M643.4 889.94h6.5M643.4 917.65h6.5M643.4 931.51h6.5M643.4 945.37h6.5M643.4 973.07h6.5M643.4 986.93h6.5M643.4 1000.78h6.5M643.4 1028.49h6.5M643.4 1042.35h6.5M643.4 1056.2h6.5M643.4 1083.91h6.5M643.4 1097.77h6.5M643.4 1111.62h6.5M643.4 1139.34h6.5M643.4 1153.19h6.5M643.4 1167.05h6.5M643.4 1194.75h6.5M643.4 1208.61h6.5M643.4 1222.46h6.5" stroke="#555" stroke-width="1.2" fill="none"/>
<text class="g" transform="translate(105.85,921.2) scale(1,0.95)" text-anchor="middle">(c)</text>
</g>
<g id="pf">
<clipPath id="cf"><rect x="769.5" y="883.5" width="577.1" height="347.6"/></clipPath>
<g clip-path="url(#cf)">
<polyline points="769.5,1027.19 807.97,1057.45 846.45,983.49 884.92,906.83 923.39,921.96 961.87,1037.28 1000.34,1023.83 1038.81,1001.98 1077.29,986.85 1115.76,996.93 1154.23,1072.58 1192.71,1084.35 1231.18,1109.9 1269.65,1082.67 1308.13,1054.09 1346.6,1121.33" fill="none" stroke="#3754a6" stroke-width="1.9" stroke-linejoin="round" stroke-dasharray="9.6 3.9"/>
<polyline points="769.5,1089.39 807.97,1091.75 846.45,1080.99 884.92,936.42 923.39,966.67 961.87,1035.6 1000.34,1084.35 1038.81,1126.38 1077.29,1097.8 1115.76,1128.73 1154.23,1149.91 1192.71,1129.07 1231.18,1047.37 1269.65,1003.66 1308.13,1081.66 1346.6,978.44" fill="none" stroke="#c1353b" stroke-width="1.9" stroke-linejoin="round" stroke-dasharray="9.6 3.9"/>
<polyline points="769.5,1054.09 807.97,1001.98 846.45,1073.25 884.92,988.53 923.39,1106.2 961.87,1147.56 1000.34,1069.22 1038.81,1165.04 1077.29,1008.37 1115.76,1037.28 1154.23,1165.04 1192.71,1095.44 1231.18,1195.64 1269.65,1140.16 1308.13,1186.89 1346.6,1089.39" fill="none" stroke="#3754a6" stroke-width="1.9" stroke-linejoin="round"/>
<polyline points="769.5,1077.63 807.97,1028.87 846.45,1037.28 884.92,958.27 923.39,921.96 961.87,1039.63 1000.34,979.11 1038.81,1016.1 1077.29,1166.05 1115.76,1055.1 1154.23,1106.88 1192.71,1054.09 1231.18,1065.19 1269.65,1160.67 1308.13,1187.9 1346.6,1146.55" fill="none" stroke="#c1353b" stroke-width="1.9" stroke-linejoin="round"/>
</g>
<rect x="769.5" y="883.5" width="577.1" height="347.6" fill="none" stroke="#111" stroke-width="1.5"/>
<path d="M769.5 1231.1v12.5M846.45 1231.1v12.5M923.39 1231.1v12.5M1000.34 1231.1v12.5M1077.29 1231.1v12.5M1154.23 1231.1v12.5M1231.18 1231.1v12.5M1308.13 1231.1v12.5" stroke="#111" stroke-width="1.5" fill="none"/>
<text class="t" transform="translate(769.5,1274.1) scale(1,1.02)" text-anchor="middle">1990</text>
<text class="t" transform="translate(846.45,1274.1) scale(1,1.02)" text-anchor="middle">1992</text>
<text class="t" transform="translate(923.39,1274.1) scale(1,1.02)" text-anchor="middle">1994</text>
<text class="t" transform="translate(1000.34,1274.1) scale(1,1.02)" text-anchor="middle">1996</text>
<text class="t" transform="translate(1077.29,1274.1) scale(1,1.02)" text-anchor="middle">1998</text>
<text class="t" transform="translate(1154.23,1274.1) scale(1,1.02)" text-anchor="middle">2000</text>
<text class="t" transform="translate(1231.18,1274.1) scale(1,1.02)" text-anchor="middle">2002</text>
<text class="t" transform="translate(1308.13,1274.1) scale(1,1.02)" text-anchor="middle">2004</text>
<text class="t" transform="translate(1372.6,890.7) scale(1,1.02)">24.0</text>
<text class="t" transform="translate(1372.6,940.33) scale(1,1.02)">23.5</text>
<text class="t" transform="translate(1372.6,989.96) scale(1,1.02)">23.0</text>
<text class="t" transform="translate(1372.6,1039.59) scale(1,1.02)">22.5</text>
<text class="t" transform="translate(1372.6,1089.22) scale(1,1.02)">22.0</text>
<text class="t" transform="translate(1372.6,1138.85) scale(1,1.02)">21.5</text>
<text class="t" transform="translate(1372.6,1188.48) scale(1,1.02)">21.0</text>
<text class="t" transform="translate(1372.6,1238.11) scale(1,1.02)">20.5</text>
<path d="M1346.6 883.3h12.5M1346.6 932.93h12.5M1346.6 982.56h12.5M1346.6 1032.19h12.5M1346.6 1081.82h12.5M1346.6 1131.45h12.5M1346.6 1181.08h12.5M1346.6 1230.71h12.5" stroke="#111" stroke-width="1.5" fill="none"/>
<path d="M1346.6 893.23h6.5M1346.6 903.15h6.5M1346.6 913.08h6.5M1346.6 923h6.5M1346.6 942.86h6.5M1346.6 952.78h6.5M1346.6 962.71h6.5M1346.6 972.63h6.5M1346.6 992.49h6.5M1346.6 1002.41h6.5M1346.6 1012.34h6.5M1346.6 1022.26h6.5M1346.6 1042.12h6.5M1346.6 1052.04h6.5M1346.6 1061.97h6.5M1346.6 1071.89h6.5M1346.6 1091.75h6.5M1346.6 1101.67h6.5M1346.6 1111.6h6.5M1346.6 1121.52h6.5M1346.6 1141.38h6.5M1346.6 1151.3h6.5M1346.6 1161.23h6.5M1346.6 1171.15h6.5M1346.6 1191.01h6.5M1346.6 1200.93h6.5M1346.6 1210.86h6.5M1346.6 1220.78h6.5" stroke="#555" stroke-width="1.2" fill="none"/>
<text class="g" transform="translate(813.8,918.2) scale(1,0.95)" text-anchor="middle">(f)</text>
</g>
<g id="pi">
<clipPath id="ci"><rect x="1454.8" y="883.3" width="578.5" height="348.3"/></clipPath>
<g clip-path="url(#ci)">
<polyline points="1454.8,968.36 1493.37,979.11 1531.93,944.82 1570.5,952.22 1609.07,980.12 1647.63,977.77 1686.2,1001.98 1724.77,1031.56 1763.33,1034.93 1801.9,1036.61 1840.47,1012.74 1879.03,978.44 1917.6,980.12 1956.17,1000.3 1994.73,1032.91 2033.3,996.93" fill="none" stroke="#3754a6" stroke-width="1.9" stroke-linejoin="round" stroke-dasharray="9.6 3.9"/>
<polyline points="1454.8,1069.89 1493.37,1013.74 1531.93,946.5 1570.5,968.36 1609.07,1047.37 1647.63,1044 1686.2,1031.23 1724.77,1062.5 1763.33,1113.26 1801.9,1091.75 1840.47,1044 1879.03,1013.74 1917.6,1005.68 1956.17,1057.79 1994.73,1063.5 2033.3,1035.6" fill="none" stroke="#c1353b" stroke-width="1.9" stroke-linejoin="round" stroke-dasharray="9.6 3.9"/>
<polyline points="1454.8,1057.45 1493.37,1065.86 1531.93,1067.88 1570.5,1097.8 1609.07,1088.38 1647.63,1118.98 1686.2,1147.56 1724.77,1118.98 1763.33,1082.67 1801.9,1120.66 1840.47,1117.97 1879.03,1181.85 1917.6,1215.81 1956.17,1167.73 1994.73,1139.82 2033.3,1098.47" fill="none" stroke="#3754a6" stroke-width="1.9" stroke-linejoin="round"/>
<polyline points="1454.8,1097.8 1493.37,1071.91 1531.93,1094.44 1570.5,1068.21 1609.07,1069.22 1647.63,1031.23 1686.2,1085.36 1724.77,1115.62 1763.33,1034.93 1801.9,1094.44 1840.47,1086.37 1879.03,1059.47 1917.6,1098.13 1956.17,1100.49 1994.73,1097.8 2033.3,1086.37" fill="none" stroke="#c1353b" stroke-width="1.9" stroke-linejoin="round"/>
</g>
<rect x="1454.8" y="883.3" width="578.5" height="348.3" fill="none" stroke="#111" stroke-width="1.5"/>
<path d="M1454.8 1231.6v12.5M1531.93 1231.6v12.5M1609.07 1231.6v12.5M1686.2 1231.6v12.5M1763.33 1231.6v12.5M1840.47 1231.6v12.5M1917.6 1231.6v12.5M1994.73 1231.6v12.5" stroke="#111" stroke-width="1.5" fill="none"/>
<text class="t" transform="translate(1456.6,1272.1) scale(1,1.02)" text-anchor="middle">1990</text>
<text class="t" transform="translate(1533.73,1272.1) scale(1,1.02)" text-anchor="middle">1992</text>
<text class="t" transform="translate(1610.87,1272.1) scale(1,1.02)" text-anchor="middle">1994</text>
<text class="t" transform="translate(1688,1272.1) scale(1,1.02)" text-anchor="middle">1996</text>
<text class="t" transform="translate(1765.13,1272.1) scale(1,1.02)" text-anchor="middle">1998</text>
<text class="t" transform="translate(1842.27,1272.1) scale(1,1.02)" text-anchor="middle">2000</text>
<text class="t" transform="translate(1919.4,1272.1) scale(1,1.02)" text-anchor="middle">2002</text>
<text class="t" transform="translate(1996.53,1272.1) scale(1,1.02)" text-anchor="middle">2004</text>
<text class="t" transform="translate(2052.6,889.3) scale(1,1.02)">10.8</text>
<text class="t" transform="translate(2052.6,958.97) scale(1,1.02)">10.4</text>
<text class="t" transform="translate(2052.6,1028.64) scale(1,1.02)">10.0</text>
<text class="t" transform="translate(2052.6,1098.31) scale(1,1.02)">9.6</text>
<text class="t" transform="translate(2052.6,1167.98) scale(1,1.02)">9.2</text>
<text class="t" transform="translate(2052.6,1237.65) scale(1,1.02)">8.8</text>
<path d="M2033.3 883.3h12.5M2033.3 952.97h12.5M2033.3 1022.64h12.5M2033.3 1092.31h12.5M2033.3 1161.98h12.5M2033.3 1231.65h12.5" stroke="#111" stroke-width="1.5" fill="none"/>
<path d="M2033.3 900.72h6.5M2033.3 918.13h6.5M2033.3 935.55h6.5M2033.3 970.39h6.5M2033.3 987.8h6.5M2033.3 1005.22h6.5M2033.3 1040.06h6.5M2033.3 1057.47h6.5M2033.3 1074.89h6.5M2033.3 1109.73h6.5M2033.3 1127.14h6.5M2033.3 1144.56h6.5M2033.3 1179.4h6.5M2033.3 1196.82h6.5M2033.3 1214.23h6.5" stroke="#555" stroke-width="1.2" fill="none"/>
<text class="g" transform="translate(1494.4,919.3) scale(1,0.95)" text-anchor="middle">(i)</text>
</g>
<rect x="151.1" y="59.4" width="50" height="8.2" fill="#f2ccd4" fill-opacity="1"/>
<line x1="155.4" y1="63.5" x2="197.1" y2="63.5" stroke="#c1353b" stroke-width="1.5" stroke-dasharray="5.2 2.2"/>
<text class="lg" transform="translate(210.5,70) scale(1,1.06)">C<tspan class="sb" dy="6.89">NX1</tspan></text>
<rect x="151.1" y="84.8" width="50" height="8.2" fill="#b5d0f0" fill-opacity="1"/>
<line x1="155.4" y1="88.9" x2="197.1" y2="88.9" stroke="#3754a6" stroke-width="1.5" stroke-dasharray="5.2 2.2"/>
<text class="lg" transform="translate(210.5,96.3) scale(1,1.06)">P<tspan class="sb" dy="6.89">NX1</tspan></text>
<rect x="151.1" y="112.8" width="50" height="8.2" fill="#cc7497" fill-opacity="1"/>
<line x1="155.4" y1="116.9" x2="197.1" y2="116.9" stroke="#c1353b" stroke-width="1.5"/>
<text class="lg" transform="translate(210.5,123.7) scale(1,1.06)">C<tspan class="sb" dy="6.89">AX1</tspan></text>
<rect x="151.1" y="138.5" width="50" height="8.2" fill="#4f8ccb" fill-opacity="1"/>
<line x1="155.4" y1="142.6" x2="197.1" y2="142.6" stroke="#3754a6" stroke-width="1.5"/>
<text class="lg" transform="translate(210.5,149.4) scale(1,1.06)">P<tspan class="sb" dy="6.89">AX1</tspan></text>
<line x1="848.3" y1="67.2" x2="891.5" y2="67.2" stroke="#c1353b" stroke-width="1.5" stroke-dasharray="6.5 2.2"/>
<text class="lg" transform="translate(895.5,72.1) scale(1,1.06)">C<tspan class="sb" dy="6.89">NX1</tspan></text>
<line x1="848.3" y1="90.8" x2="891.5" y2="90.8" stroke="#3754a6" stroke-width="1.5" stroke-dasharray="6.5 2.2"/>
<text class="lg" transform="translate(895.5,98.4) scale(1,1.06)">P<tspan class="sb" dy="6.89">NX1</tspan></text>
<line x1="848.3" y1="116.8" x2="891.5" y2="116.8" stroke="#c1353b" stroke-width="1.5"/>
<text class="lg" transform="translate(895.5,125.2) scale(1,1.06)">C<tspan class="sb" dy="6.89">AX1</tspan></text>
<line x1="848.3" y1="143.3" x2="891.5" y2="143.3" stroke="#3754a6" stroke-width="1.5"/>
<text class="lg" transform="translate(895.5,151.5) scale(1,1.06)">P<tspan class="sb" dy="6.89">AX1</tspan></text>
<line x1="1547.8" y1="63.4" x2="1590.7" y2="63.4" stroke="#c1353b" stroke-width="1.5" stroke-dasharray="5.0 2.2"/>
<text class="lg" transform="translate(1594.7,68.9) scale(1,1.06)">C<tspan class="sb" dy="6.51">NX1</tspan></text>
<line x1="1547.8" y1="87.1" x2="1590.7" y2="87.1" stroke="#3754a6" stroke-width="1.5" stroke-dasharray="5.0 2.2"/>
<text class="lg" transform="translate(1594.7,95.1) scale(1,1.06)">P<tspan class="sb" dy="6.51">NX1</tspan></text>
<line x1="1547.8" y1="113" x2="1590.7" y2="113" stroke="#c1353b" stroke-width="1.5"/>
<text class="lg" transform="translate(1594.7,121.7) scale(1,1.06)">C<tspan class="sb" dy="6.51">AX1</tspan></text>
<line x1="1547.8" y1="139.5" x2="1590.7" y2="139.5" stroke="#3754a6" stroke-width="1.5"/>
<text class="lg" transform="translate(1594.7,148.2) scale(1,1.06)">P<tspan class="sb" dy="6.51">AX1</tspan></text>
</svg></body></html>
